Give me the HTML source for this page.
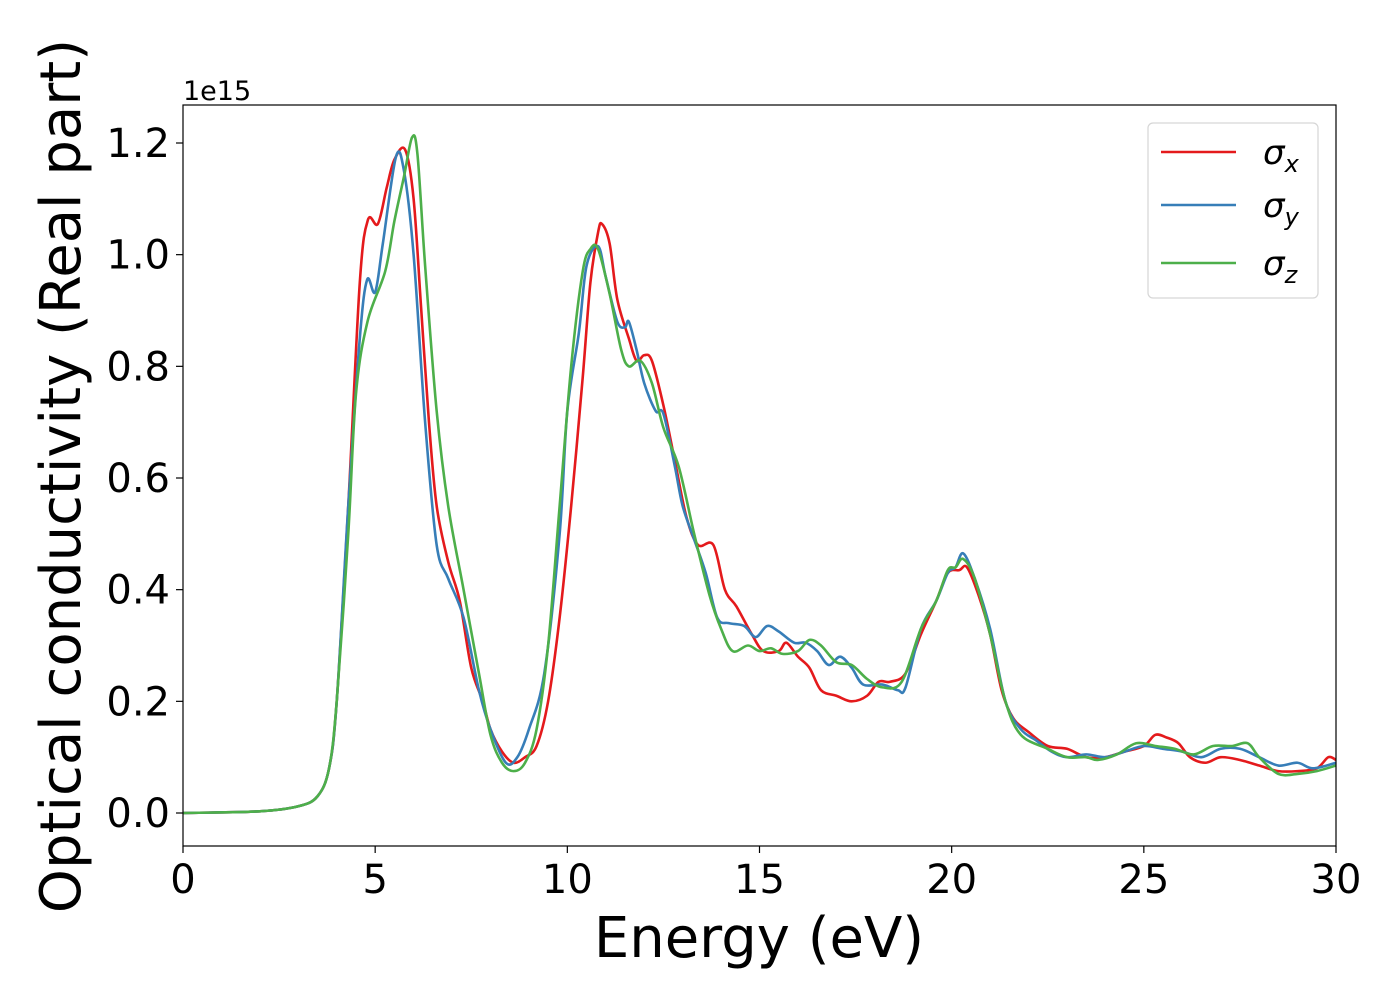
<!DOCTYPE html>
<html><head><meta charset="utf-8">
<style>
html,body{margin:0;padding:0;background:#fff;}
svg text{font-family:"DejaVu Sans","Liberation Sans",sans-serif;fill:#000;}
</style></head>
<body>
<svg id="chart" width="1400" height="1000" viewBox="0 0 1400 1000" xmlns="http://www.w3.org/2000/svg">
<g id="plot"></g>
</svg>
<script>
const xTicks=[0,5,10,15,20,25,30];
const yTicks=[0,0.2,0.4,0.6,0.8,1.0,1.2];
const yTickLabels=["0.0","0.2","0.4","0.6","0.8","1.0","1.2"];
const seriesNames=["σx","σy","σz"];
const xE=[0,2,3,3.5,3.8,4,4.3,4.6,4.81,5.07,5.3,5.5,5.78,6.0,6.2,6.4,6.6,6.9,7.2,7.5,7.8,8.0,8.3,8.6,8.9,9.2,9.5,9.8,10.1,10.4,10.6,10.8,10.9,11.1,11.3,11.6,11.8,12.0,12.2,12.5,12.8,13.1,13.4,13.8,14.1,14.4,14.8,15.1,15.5,15.7,16.0,16.3,16.6,17.0,17.4,17.8,18.1,18.4,18.8,19.2,19.6,19.9,20.2,20.4,20.7,21.0,21.3,21.6,22.0,22.5,23,23.5,24,24.5,25,25.3,25.6,25.9,26.2,26.6,27.0,27.5,28.0,28.5,29,29.5,29.8,30];
const xV=[0,0.003,0.012,0.03,0.08,0.2,0.55,0.95,1.062,1.055,1.12,1.17,1.188,1.1,0.9,0.7,0.55,0.45,0.38,0.26,0.2,0.15,0.11,0.09,0.1,0.12,0.2,0.35,0.55,0.78,0.95,1.04,1.055,1.02,0.92,0.85,0.81,0.82,0.81,0.73,0.63,0.53,0.48,0.48,0.4,0.37,0.32,0.29,0.29,0.305,0.28,0.26,0.22,0.21,0.2,0.21,0.235,0.235,0.25,0.32,0.38,0.43,0.435,0.44,0.39,0.32,0.22,0.17,0.145,0.12,0.115,0.1,0.1,0.11,0.12,0.14,0.135,0.125,0.1,0.09,0.1,0.095,0.085,0.075,0.075,0.08,0.1,0.095];
const yE=[0,2,3,3.5,3.8,4,4.3,4.6,4.79,5.0,5.2,5.54,5.75,6.0,6.3,6.6,6.9,7.3,7.7,8.0,8.4,8.7,9.0,9.4,9.8,10.0,10.3,10.5,10.8,11.0,11.3,11.5,11.6,11.8,12.0,12.3,12.5,12.8,13.0,13.3,13.6,13.9,14.2,14.6,14.9,15.2,15.5,15.9,16.2,16.5,16.8,17.1,17.4,17.7,18.2,18.6,18.8,19.2,19.6,19.9,20.1,20.3,20.6,21.0,21.4,21.8,22.2,22.6,23.0,23.5,24,24.5,25,25.5,26,26.5,27,27.5,28,28.5,29,29.4,30];
const yV=[0,0.003,0.012,0.03,0.08,0.2,0.55,0.85,0.955,0.933,1.02,1.175,1.15,1.0,0.7,0.48,0.42,0.35,0.22,0.15,0.09,0.1,0.15,0.25,0.5,0.72,0.86,0.98,1.015,0.96,0.88,0.87,0.88,0.83,0.77,0.72,0.715,0.62,0.55,0.49,0.43,0.35,0.34,0.335,0.315,0.335,0.325,0.305,0.305,0.29,0.265,0.28,0.26,0.23,0.23,0.22,0.225,0.33,0.38,0.43,0.44,0.465,0.42,0.33,0.2,0.15,0.13,0.11,0.1,0.105,0.1,0.11,0.12,0.115,0.11,0.1,0.115,0.115,0.1,0.085,0.09,0.08,0.09];
const zE=[0,2,3,3.5,3.8,4,4.3,4.5,4.8,5.26,5.5,5.75,5.96,6.1,6.3,6.6,6.9,7.3,7.7,8.0,8.3,8.6,8.9,9.2,9.5,9.8,10.1,10.4,10.6,10.8,11.1,11.4,11.6,11.9,12.2,12.5,12.9,13.3,13.7,14.0,14.3,14.7,15.0,15.3,15.6,16.0,16.3,16.6,17.0,17.4,17.8,18.2,18.7,19.2,19.6,19.9,20.1,20.3,20.6,21.0,21.4,21.8,22.5,23.0,23.5,23.8,24.3,24.8,25.3,25.8,26.3,26.8,27.3,27.7,28.0,28.5,29,29.5,30];
const zV=[0,0.003,0.012,0.03,0.08,0.2,0.5,0.75,0.88,0.97,1.06,1.14,1.21,1.18,0.98,0.72,0.55,0.4,0.25,0.14,0.09,0.075,0.09,0.15,0.3,0.55,0.8,0.97,1.01,1.01,0.93,0.83,0.8,0.81,0.77,0.69,0.62,0.5,0.39,0.33,0.29,0.3,0.29,0.295,0.285,0.29,0.31,0.3,0.27,0.265,0.24,0.225,0.235,0.33,0.38,0.435,0.44,0.455,0.42,0.32,0.2,0.14,0.115,0.1,0.1,0.095,0.105,0.125,0.12,0.115,0.105,0.12,0.12,0.125,0.1,0.07,0.07,0.075,0.085];

const NS="http://www.w3.org/2000/svg";
const X0=183,X1=1336,Y0=105,Y1=846;
const xs=v=>X0+(v-0)/(30-0)*(X1-X0);
const ys=v=>813-v*(670/1.2);
const svg=document.getElementById('chart');
const plot=document.getElementById('plot');
function mk(tag,attrs,parent){const e=document.createElementNS(NS,tag);for(const k in attrs)e.setAttribute(k,attrs[k]);(parent||svg).appendChild(e);return e;}
function pathFrom(E,V){
  const p=E.map((e,i)=>[xs(e),ys(V[i])]);
  let d="M"+p[0][0].toFixed(2)+","+p[0][1].toFixed(2);
  for(let i=0;i<p.length-1;i++){
    const a=p[i-1]||p[i],b=p[i],c=p[i+1],n=p[i+2]||c;
    const c1=[b[0]+(c[0]-a[0])/6,b[1]+(c[1]-a[1])/6];
    const c2=[c[0]-(n[0]-b[0])/6,c[1]-(n[1]-b[1])/6];
    d+=" C"+c1.map(v=>v.toFixed(2)).join(",")+" "+c2.map(v=>v.toFixed(2)).join(",")+" "+c[0].toFixed(2)+","+c[1].toFixed(2);
  }
  return d;
}
const defs=mk('defs',{});
const cp=mk('clipPath',{id:'clip'},defs);
mk('rect',{x:X0,y:Y0,width:X1-X0,height:Y1-Y0},cp);
const colors=["#e41a1c","#377eb8","#4daf4a"];
const data=[[xE,xV],[yE,yV],[zE,zV]];
const lineNames=["sigma-x-line","sigma-y-line","sigma-z-line"];
data.forEach((s,i)=>{
  const l=mk('path',{d:pathFrom(s[0],s[1]),fill:'none',stroke:colors[i],'stroke-width':2.6,'clip-path':'url(#clip)'},plot);
  
  
});
const frame=mk('rect',{x:X0,y:Y0,width:X1-X0,height:Y1-Y0,fill:'none',stroke:'#000','stroke-width':1.2});


xTicks.forEach(t=>{
  const x=xs(t);
  const tk=mk('line',{x1:x,x2:x,y1:Y1,y2:Y1+7,stroke:'#000','stroke-width':1.2});
  
  
  const tx=mk('text',{x:x,y:893,'text-anchor':'middle','font-size':40});
  tx.textContent=t;
  
  
});
yTicks.forEach((t,i)=>{
  const y=ys(t);
  const tk=mk('line',{x1:X0-7,x2:X0,y1:y,y2:y,stroke:'#000','stroke-width':1.2});
  
  
  const tx=mk('text',{x:170,y:y+14,'text-anchor':'end','font-size':40});
  tx.textContent=yTickLabels[i];
  
  
});
const off=mk('text',{x:183,y:100,'font-size':27});
off.textContent="1e15";


const xl=mk('text',{x:759,y:957,'text-anchor':'middle','font-size':56});
xl.textContent="Energy (eV)";


const yl=mk('text',{x:0,y:0,'text-anchor':'middle','font-size':56,transform:'translate(80,476) rotate(-90)'});
yl.textContent="Optical conductivity (Real part)";


const lg=mk('g',{});


mk('rect',{x:1148,y:123,width:170,height:175,rx:5,fill:'#fff',stroke:'#d6d6d6','stroke-width':1.2},lg);
const ly=[152,205,263];
const subs=["x","y","z"];
seriesNames.forEach((n,i)=>{
  const ln=mk('line',{x1:1161,x2:1236,y1:ly[i],y2:ly[i],stroke:colors[i],'stroke-width':2.6},lg);
  
  
  const t=mk('text',{x:1263,y:ly[i]+12,'font-size':34,'font-style':'italic'},lg);
  
  
  t.textContent="σ";
  const s=mk('tspan',{'font-size':24,dy:8},t);
  s.textContent=subs[i];
});
</script>
</body></html>
